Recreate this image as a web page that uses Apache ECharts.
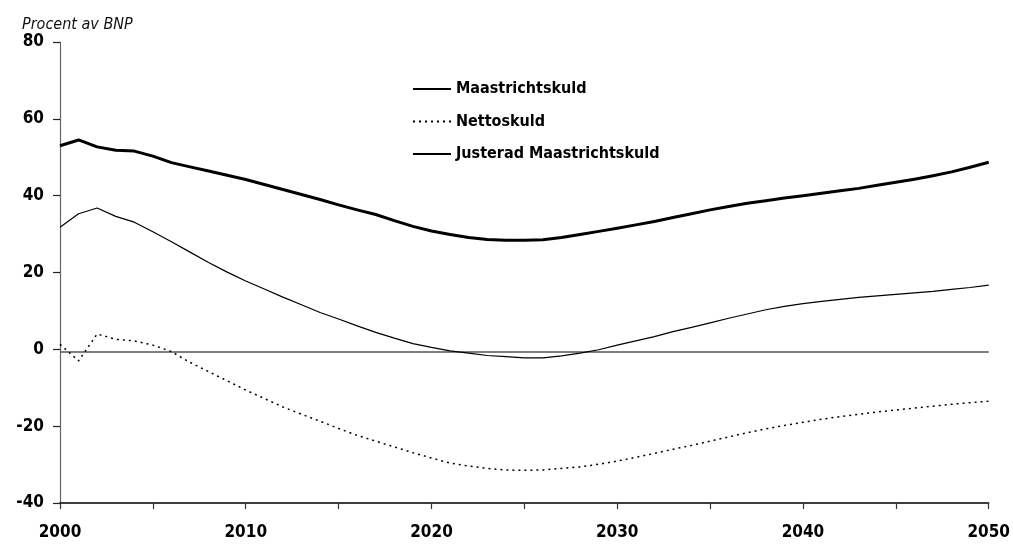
<!DOCTYPE html>
<html>
<head>
<meta charset="utf-8">
<script src="https://cdn.jsdelivr.net/npm/echarts@6/dist/echarts.min.js"></script>
<style>
  html, body { margin: 0; padding: 0; background: #ffffff; }
  #chart { width: 1013px; height: 544px; }
</style>
</head>
<body>
<div id="chart"></div>
<script>
// Years 2000–2050
const years = [];
for (let y = 2000; y <= 2050; y++) years.push(y);

// Procent av BNP
const maastrichtskuld = [
  53.0, 54.5, 52.7, 51.8, 51.6, 50.3, 48.6, 47.5, 46.4, 45.3,
  44.2, 42.9, 41.6, 40.3, 39.0, 37.6, 36.3, 35.1, 33.5, 32.0,
  30.8, 29.9, 29.1, 28.6, 28.4, 28.4, 28.5, 29.1, 29.9, 30.7,
  31.5, 32.4, 33.3, 34.3, 35.3, 36.3, 37.2, 38.0, 38.7, 39.4,
  40.0, 40.6, 41.3, 41.9, 42.7, 43.5, 44.3, 45.2, 46.2, 47.4,
  48.7
];
const nettoskuld = [
  1.3, -3.0, 4.0, 2.6, 2.2, 1.1, -0.6, -3.4, -5.8, -8.2,
  -10.6, -12.8, -15.0, -16.9, -18.7, -20.6, -22.4, -23.9, -25.4, -26.9,
  -28.3, -29.6, -30.4, -31.0, -31.4, -31.5, -31.4, -31.0, -30.6, -29.9,
  -29.1, -28.1, -27.1, -26.0, -25.0, -23.9, -22.8, -21.7, -20.7, -19.8,
  -19.0, -18.2, -17.5, -16.9, -16.3, -15.8, -15.3, -14.8, -14.3, -13.9,
  -13.5
];
const justeradMaastrichtskuld = [
  31.8, 35.3, 36.8, 34.6, 33.1, 30.6, 28.0, 25.3, 22.6, 20.1,
  17.8, 15.7, 13.6, 11.6, 9.6, 7.9, 6.1, 4.4, 2.9, 1.5,
  0.5, -0.4, -1.0, -1.6, -1.9, -2.2, -2.2, -1.7, -1.0, -0.1,
  1.1, 2.2, 3.3, 4.6, 5.7, 6.9, 8.1, 9.2, 10.3, 11.2,
  11.9, 12.5, 13.0, 13.5, 13.9, 14.3, 14.7, 15.1, 15.6, 16.1,
  16.7
];

// Axis settings
const yTicks = { min: -40, max: 80, step: 20 };
const xTicks = { min: 2000, max: 2050, step: 5, labelStep: 10 };
const baseline = -0.6;

const FONT = "'Liberation Sans Narrow', 'DejaVu Sans Condensed', 'Roboto Condensed', sans-serif";
const pairs = arr => years.map((y, i) => [y, arr[i]]);

const chart = echarts.init(document.getElementById('chart'), null, { renderer: 'canvas' });

chart.setOption({
  animation: false,
  backgroundColor: '#ffffff',
  grid: { left: 60, right: 20, top: 42, bottom: 41, containLabel: false },
  title: {
    text: 'Procent av BNP',
    left: 22, top: 17, padding: 0,
    textStyle: { fontFamily: FONT, fontStyle: 'italic', fontWeight: 'normal', fontSize: 16, color: '#111' }
  },
  legend: {
    orient: 'vertical',
    left: 407, top: 76,
    itemWidth: 38, itemHeight: 14, itemGap: 16.5,
    selectedMode: false,
    itemStyle: { opacity: 0 },
    textStyle: { fontFamily: FONT, fontWeight: 'bold', fontSize: 16, color: '#000', lineHeight: 16 },
    data: ['Maastrichtskuld', 'Nettoskuld', 'Justerad Maastrichtskuld']
  },
  xAxis: {
    type: 'value',
    min: xTicks.min, max: xTicks.max, interval: xTicks.step,
    axisLine: { show: true, onZero: false, lineStyle: { color: '#000', width: 1.5 } },
    axisTick: { show: true, length: 6, lineStyle: { color: '#333', width: 1.2 } },
    splitLine: { show: false },
    axisLabel: {
      margin: 21,
      fontFamily: FONT, fontWeight: 'bold', fontSize: 17, color: '#000',
      formatter: v => (v % xTicks.labelStep === 0 ? String(v) : '')
    }
  },
  yAxis: {
    type: 'value',
    min: yTicks.min, max: yTicks.max, interval: yTicks.step,
    axisLine: { show: true, lineStyle: { color: '#666', width: 1.2 } },
    axisTick: { show: true, length: 7, lineStyle: { color: '#222', width: 1.2 } },
    splitLine: { show: false },
    axisLabel: {
      margin: 16,
      fontFamily: FONT, fontWeight: 'bold', fontSize: 17, color: '#000'
    }
  },
  series: [
    {
      name: 'Maastrichtskuld',
      type: 'line',
      data: pairs(maastrichtskuld),
      symbol: 'none',
      lineStyle: { color: '#000', width: 3, join: 'round' },
      itemStyle: { color: '#000' },
      z: 3
    },
    {
      name: 'Nettoskuld',
      type: 'line',
      data: pairs(nettoskuld),
      symbol: 'none',
      lineStyle: { color: '#000', width: 1.5, type: [2, 4] },
      itemStyle: { color: '#000' },
      z: 3
    },
    {
      name: 'Justerad Maastrichtskuld',
      type: 'line',
      data: pairs(justeradMaastrichtskuld),
      symbol: 'none',
      lineStyle: { color: '#000', width: 1.2 },
      itemStyle: { color: '#000' },
      z: 3,
      markLine: {
        silent: true,
        symbol: 'none',
        label: { show: false },
        lineStyle: { color: '#555', width: 1.5, type: 'solid' },
        data: [{ yAxis: baseline }],
        z: 2
      }
    }
  ]
});
</script>
</body>
</html>
